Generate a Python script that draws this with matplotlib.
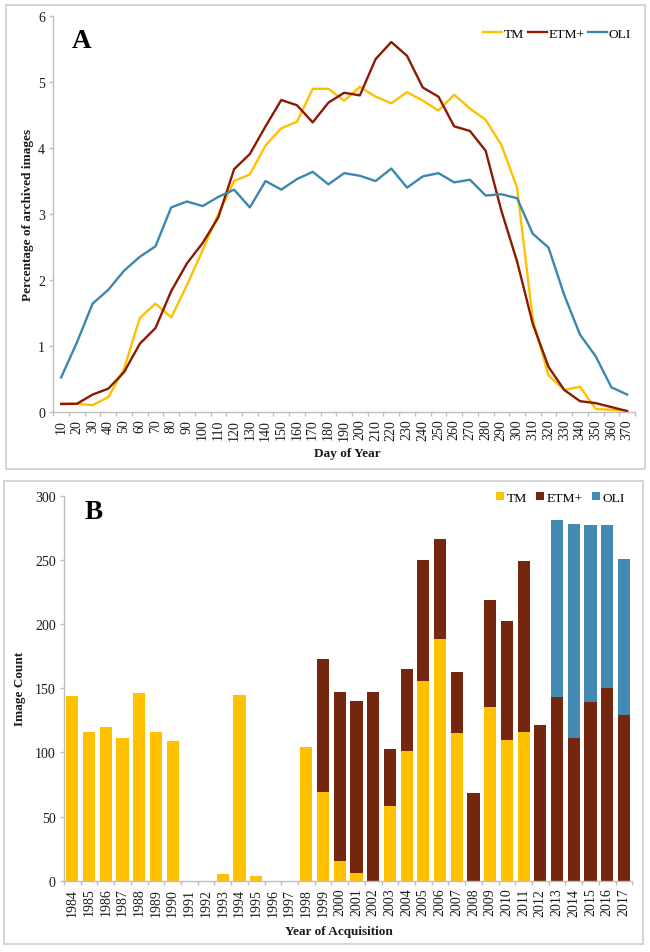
import matplotlib
matplotlib.use("Agg")
import matplotlib.pyplot as plt
from matplotlib.patches import Rectangle

plt.rcParams['font.family'] = ['Liberation Serif', 'DejaVu Serif']

days = list(range(10, 380, 10))
tm_pct = [.11,.12,.10,.22,.65,1.42,1.64,1.43,1.92,2.45,3.0,3.5,3.6,4.04,4.3,4.4,4.9,4.9,4.72,4.93,
          4.78,4.68,4.85,4.72,4.57,4.81,4.6,4.43,4.05,3.4,1.4,.55,.33,.38,.04,.03,.01]
etm_pct = [.12,.12,.26,.35,.6,1.03,1.27,1.83,2.25,2.56,2.95,3.68,3.91,4.33,4.73,4.65,4.39,4.69,4.84,4.8,
           5.35,5.61,5.4,4.92,4.78,4.33,4.26,3.96,3.05,2.28,1.33,.68,.33,.16,.13,.07,.01]
oli_pct = [.52,1.05,1.64,1.85,2.14,2.35,2.51,3.1,3.19,3.12,3.26,3.37,3.1,3.5,3.37,3.53,3.64,3.45,3.62,3.58,
           3.5,3.69,3.4,3.57,3.62,3.48,3.52,3.28,3.3,3.24,2.7,2.49,1.77,1.17,.84,.37,.26]

years = list(range(1984, 2018))
tm_cnt = [144,116,120,111,146,116,109,0,0,5,145,4,0,0,104,69,15,6,0,58,101,156,188,115,0,135,110,116,0,0,0,0,0,0]
etm_cnt = [0,0,0,0,0,0,0,0,0,0,0,0,0,0,0,104,132,134,147,45,64,94,78,48,68,84,92,133,121,143,111,139,150,129]
oli_cnt = [0]*29 + [138,167,138,127,122]

YEL, RED, BLU = '#FFC000', '#8B1A00', '#3A87B0'
BROWN, BARBLU = '#74260F', '#428AB3'
AXC = '#BFBFBF'
TXT = '#1a1a1a'
W, H = 650, 953

fig = plt.figure(figsize=(W/100, H/100), dpi=100, facecolor='white')

def axpx(l, t, r, b):
    return fig.add_axes([l/W, 1-b/H, (r-l)/W, (b-t)/H])

for l, t, r, b in [(6, 5.5, 645, 470), (3.7, 481.7, 642.7, 945)]:
    fig.add_artist(Rectangle((l/W, 1-b/H), (r-l)/W, (b-t)/H, transform=fig.transFigure,
                             fc='white', ec='#D4D4D4', lw=1.4, zorder=-5))

def style(ax, n):
    for s in ('top', 'right'):
        ax.spines[s].set_visible(False)
    for s in ('left', 'bottom'):
        ax.spines[s].set_color(AXC)
        ax.spines[s].set_linewidth(1.0)
    ax.set_xlim(0, n)
    ax.set_xticks(range(n+1))
    ax.set_xticklabels([])
    ax.tick_params(axis='x', which='major', length=3, color=AXC, width=1)
    ax.set_xticks([i+.5 for i in range(n)], minor=True)
    ax.tick_params(axis='x', which='minor', length=0, pad=5)
    ax.tick_params(axis='y', length=3, color=AXC, width=1, labelsize=10, labelcolor=TXT, pad=3)
    ax.patch.set_alpha(0)

def labels(ax, box, xtext, ytext, xc, yc, ylab_x):
    l, t, r, bt = box
    ax.set_ylabel(ytext, fontsize=9.5, fontweight='bold', color=TXT)
    ax.yaxis.set_label_coords((ylab_x-l)/(r-l), 0.5)
    ax.yaxis.label.set_va('center')
    ax.set_xlabel(xtext, fontsize=9.5, fontweight='bold', color=TXT)
    ax.xaxis.set_label_coords((xc-l)/(r-l), (bt-yc)/(bt-t))
    ax.xaxis.label.set_va('center')

# Panel A
box_a = (53.3, 17.3, 635, 412.7)
a = axpx(*box_a)
style(a, len(days))
pos = [i+.5 for i in range(len(days))]
a.plot(pos, tm_pct, color=YEL, lw=1.7, label='TM', solid_joinstyle='round')
a.plot(pos, etm_pct, color=RED, lw=1.7, label='ETM+', solid_joinstyle='round')
a.plot(pos, oli_pct, color=BLU, lw=1.7, label='OLI', solid_joinstyle='round')
a.set_ylim(0, 6)
a.set_yticks(range(7))
a.set_xticklabels([str(d) for d in days], minor=True, rotation=90, fontsize=10, color=TXT)
labels(a, box_a, 'Day of Year', 'Percentage of archived images', 347.5, 454, 28)
a.legend(loc='upper right', bbox_to_anchor=(1.003, 0.985), ncol=3, frameon=False, fontsize=9.7,
         handlelength=1.42, handletextpad=0.12, columnspacing=0.28, borderaxespad=0.2, borderpad=0.2)
fig.text(72/W, 1-47.5/H, 'A', fontsize=19.5, fontweight='bold', color='black')

# Panel B
box_b = (64, 496.7, 632.3, 881.7)
b = axpx(*box_b)
style(b, len(years))
pos = [i+.5 for i in range(len(years))]
bot2 = [x+y for x, y in zip(tm_cnt, etm_cnt)]
b.bar(pos, tm_cnt, .72, color=YEL, label='TM')
b.bar(pos, etm_cnt, .72, bottom=tm_cnt, color=BROWN, label='ETM+')
b.bar(pos, oli_cnt, .72, bottom=bot2, color=BARBLU, label='OLI')
b.set_ylim(0, 300)
b.set_yticks(range(0, 301, 50))
b.set_xticklabels([str(y) for y in years], minor=True, rotation=90, fontsize=10, color=TXT)
labels(b, box_b, 'Year of Acquisition', 'Image Count', 338.5, 932, 20)
b.legend(loc='upper right', bbox_to_anchor=(0.994, 1.02), ncol=3, frameon=False, fontsize=9.7,
         handlelength=0.55, handleheight=0.55, handletextpad=0.22, columnspacing=0.7, borderaxespad=0.1, borderpad=0.2)
fig.text(84.5/W, 1-519/H, 'B', fontsize=19.5, fontweight='bold', color='black')

fig.savefig('out.png', dpi=100)
